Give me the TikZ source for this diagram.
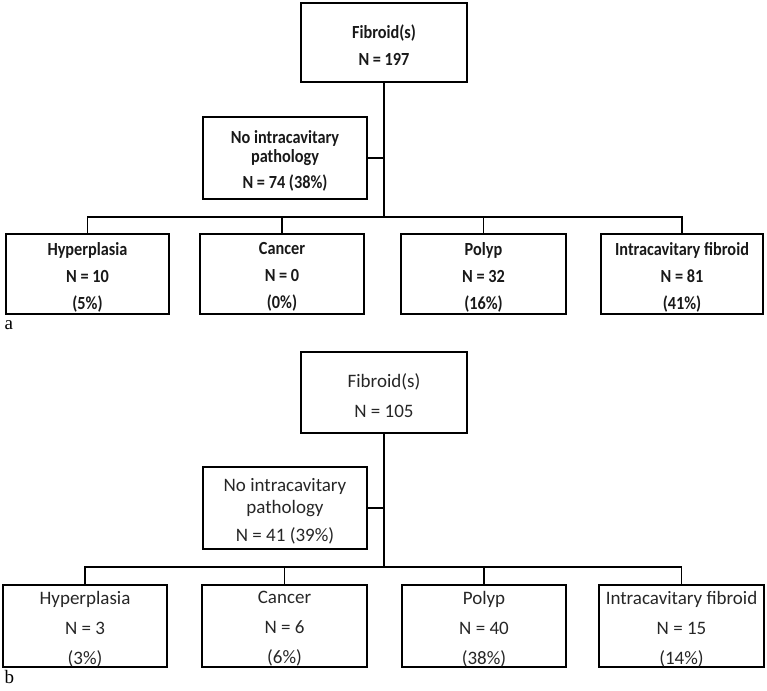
\documentclass[tikz,border=0pt]{standalone}
\usepackage{fontspec}
\setmainfont{Carlito}
\newfontfamily\afont[FakeStretch=0.88]{Carlito}
\newfontfamily\labfont{Liberation Serif}
\begin{document}
\begin{tikzpicture}[x=1pt,y=-1pt,
  line width=1.25pt,
  frame/.style={draw=black, inner sep=0pt},
  txta/.style={inner sep=0pt, align=center, text=black!90, yshift=-3pt,
    font=\afont\bfseries\fontsize{18.5}{27}\selectfont},
  txtb/.style={inner sep=0pt, align=center, text=black!85, yshift=-3pt,
    font=\fontsize{19}{30}\selectfont},
  conn/.style={draw=black, line width=1.25pt},
  lab/.style={inner sep=0pt, anchor=base west, font=\labfont\fontsize{19}{22}\selectfont}
]
\useasboundingbox (0,0) rectangle (767,690);
% ---------- panel a ----------
\node[frame, minimum width=166pt, minimum height=79pt, label={[txta]center:Fibroid(s)\\N = 197}] (fa) at (384,42.5) {};
\node[frame, minimum width=164pt, minimum height=82pt, label={[txta]center:No intracavitary\\[-8pt]pathology\\[-1pt]N = 74 (38\%)}] (na) at (285,158) {};
\node[frame, minimum width=163pt, minimum height=80pt, label={[txta]center:Hyperplasia\\N = 10\\(5\%)}] (a1) at (87.5,274) {};
\node[frame, minimum width=164pt, minimum height=80pt, label={[txta]center:Cancer\\N = 0\\(0\%)}] (a2) at (282,274) {};
\node[frame, minimum width=165pt, minimum height=80pt, label={[txta]center:Polyp\\N = 32\\(16\%)}] (a3) at (483.5,274) {};
\node[frame, minimum width=162pt, minimum height=80pt, label={[txta]center:Intracavitary fibroid\\N = 81\\(41\%)}] (a4) at (682,274) {};
\coordinate (ja) at (384,217);
\draw[conn] (fa.south) -- (ja);
\draw[conn] (na.east) -- (na.east -| ja);
\draw[conn] (a1.north) -- (a1.north |- ja) -- (a4.north |- ja) -- (a4.north);
\draw[conn] (a2.north) -- (a2.north |- ja);
\draw[conn] (a3.north) -- (a3.north |- ja);
\node[lab] (la) at (4,329) {a};
% ---------- panel b ----------
\node[frame, minimum width=166pt, minimum height=81pt, label={[txtb]center:Fibroid(s)\\N = 105}] (fb) at (384,392.5) {};
\node[frame, minimum width=164pt, minimum height=82pt, label={[txtb]center:No intracavitary\\[-8pt]pathology\\[-2pt]N = 41 (39\%)}] (nb) at (285,508) {};
\node[frame, minimum width=164pt, minimum height=82pt, label={[txtb]center:Hyperplasia\\N = 3\\(3\%)}] (b1) at (85,626) {};
\node[frame, minimum width=165pt, minimum height=82pt, label={[txtb]center:Cancer\\N = 6\\(6\%)}] (b2) at (284.5,626) {};
\node[frame, minimum width=164pt, minimum height=82pt, label={[txtb]center:Polyp\\N = 40\\(38\%)}] (b3) at (484,626) {};
\node[frame, minimum width=165pt, minimum height=82pt, label={[txtb]center:Intracavitary fibroid\\N = 15\\(14\%)}] (b4) at (681.5,626) {};
\coordinate (jb) at (384,567);
\draw[conn] (fb.south) -- (jb);
\draw[conn] (nb.east) -- (nb.east -| jb);
\draw[conn] (b1.north) -- (b1.north |- jb) -- (b4.north |- jb) -- (b4.north);
\draw[conn] (b2.north) -- (b2.north |- jb);
\draw[conn] (b3.north) -- (b3.north |- jb);
\node[lab] (lb) at (4,683) {b};
\end{tikzpicture}
\end{document}
